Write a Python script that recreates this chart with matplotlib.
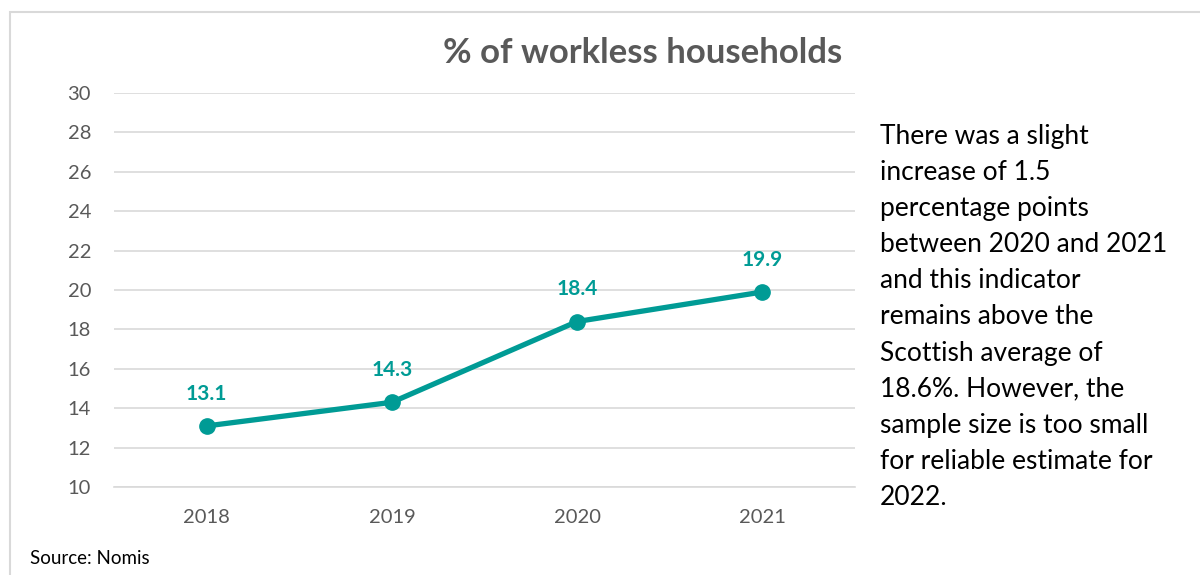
import matplotlib
matplotlib.use('Agg')
import matplotlib.pyplot as plt
from matplotlib.patches import Rectangle

years = ['2018', '2019', '2020', '2021']
pct_workless = [13.1, 14.3, 18.4, 19.9]
y_ticks = [10, 12, 14, 16, 18, 20, 22, 24, 26, 28, 30]

TEAL = '#009b95'
GREY = '#595959'
GRID = '#d9d9d9'

plt.rcParams['font.family'] = ['Lato', 'DejaVu Sans']

fig = plt.figure(figsize=(12, 5.75), dpi=100)
ax = fig.add_axes([114/1200, 1 - 487/575, (855 - 114)/1200, (487 - 93)/575])

x = range(len(years))
ax.plot(x, pct_workless, color=TEAL, lw=3.8, marker='o', ms=11, zorder=3)
for xi, v in zip(x, pct_workless):
    ax.annotate(f'{v}', (xi, v), xytext=(0, 16), textcoords='offset points',
                ha='center', va='bottom', color=TEAL, fontsize=15, fontweight='bold')

ax.set_xlim(-0.5, len(years) - 0.5)
ax.set_ylim(10, 30)
ax.set_yticks(y_ticks)
ax.set_xticks(list(x))
ax.set_xticklabels(years)
ax.yaxis.grid(True, color=GRID, lw=1.2)
ax.set_axisbelow(True)
for s in ax.spines.values():
    s.set_visible(False)
ax.spines['bottom'].set_visible(True)
ax.spines['bottom'].set_color(GRID)
ax.spines['bottom'].set_linewidth(1.2)
ax.tick_params(length=0, colors=GREY, labelsize=14.5)
ax.tick_params(axis='y', pad=16.5)
ax.tick_params(axis='x', pad=16)

fig.text(643/1200, 1 - 53/575, '% of workless households', ha='center', va='center',
         fontsize=25, fontweight='bold', color=GREY)

note = ('There was a slight\nincrease of 1.5\npercentage points\nbetween 2020 and 2021\n'
        'and this indicator\nremains above the\nScottish average of\n18.6%. However, the\n'
        'sample size is too small\nfor reliable estimate for\n2022.')
fig.text(880/1200, 1 - 124/575, note, ha='left', va='top', fontsize=19,
         color='black', linespacing=1.555)

fig.text(30/1200, 1 - 558/575, 'Source: Nomis', ha='left', va='center', fontsize=13.5,
         color='black')

fig.patches.append(Rectangle((10/1200, -0.1), 1.2, 1 - 12/575 + 0.1, transform=fig.transFigure,
                             fill=False, edgecolor=GRID, lw=1.5))

fig.savefig('out.png', dpi=100)
